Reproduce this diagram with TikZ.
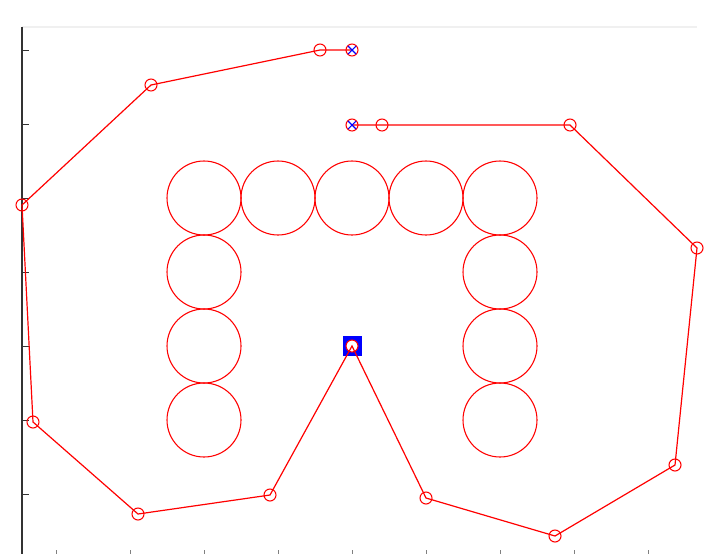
\documentclass[tikz,border=0pt]{standalone}
\begin{document}
\begin{tikzpicture}[x=0.75pt,y=-0.75pt,
  pathline/.style={red, line width=0.9pt},
  mk/.style={circle, draw=red, line width=0.8pt, minimum size=9pt, inner sep=0pt},
  big/.style={circle, draw=red, line width=0.8pt, minimum size=55.5pt, inner sep=0pt},
  axisline/.style={black!80, line width=0.9pt},
  tick/.style={black!80, line width=0.7pt}]
\useasboundingbox (0,0) rectangle (709,554);
% frame
\draw[black!6, line width=0.8pt] (22,27) -- (697,27);
\draw[axisline] (22,27) -- (22,554);
\foreach \y in {50,124,198,272,346,420,494} \draw[tick] (22,\y) -- (29,\y);
\foreach \x in {56,130,204,278,352,426,500,574,648} \draw[black!50, line width=0.5pt] (\x,550) -- (\x,554);
% big circles
\foreach \x/\y/\n in {204/198/a,278/198/b,352/198/c,426/198/d,500/198/e,204/272/f,204/346/g,204/420/h,500/272/i,500/346/j,500/420/k}
  \node[big] (C\n) at (\x,\y) {};
% start square
\fill[blue] (342.5,336) rectangle (361.5,355.5);
% path points
\foreach \x/\y/\n in {352/50/p1,320/50/p2,151/85/p3,22/205/p4,33/422/p5,138/514/p6,270/495/p7,352/346/p8,426/498/p9,555/536/p10,675/465/p11,697/248/p12,570/125/p13,382/125/p14,352/125/p15}
  \coordinate (\n) at (\x,\y);
\node[mk, fill=white] (m8) at (p8) {};
\draw[pathline] (p1) -- (p2) -- (p3) -- (p4) -- (p5) -- (p6) -- (p7) -- (p8) -- (p9) -- (p10) -- (p11) -- (p12) -- (p13) -- (p14) -- (p15);
\foreach \n in {p1,p2,p3,p4,p5,p6,p7,p9,p10,p11,p12,p13,p14,p15}
  \node[mk] (m\n) at (\n) {};
\foreach \n in {p1,p15}
  \draw[blue, line width=0.8pt] ([shift={(-4,-4)}]\n) -- ([shift={(4,4)}]\n) ([shift={(-4,4)}]\n) -- ([shift={(4,-4)}]\n);
\end{tikzpicture}
\end{document}
